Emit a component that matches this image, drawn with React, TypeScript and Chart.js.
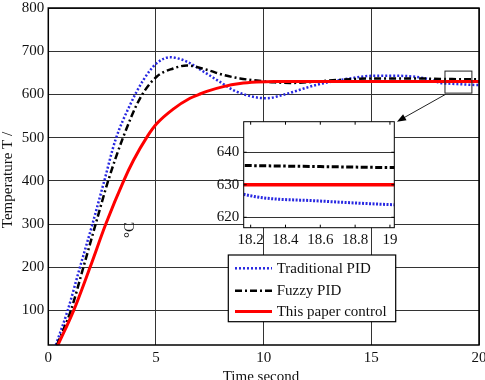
import React, { useEffect, useRef } from 'react';
import { Chart, registerables } from 'chart.js';

Chart.register(...registerables);

const FONT = "'Liberation Serif', 'Times New Roman', serif";

// ---- axis ticks ----
const xTicks = [0, 5, 10, 15, 20];
const yTicks = [100, 200, 300, 400, 500, 600, 700, 800];
const insetXTicks = [18.2, 18.4, 18.6, 18.8, 19];
const insetYTicks = [620, 630, 640];

// ---- series ----
const seriesNames = ['Traditional PID', 'Fuzzy PID', 'This paper control'];

const tradTime = [0.35, 0.9, 1.47, 2.05, 2.6, 3.12, 3.79, 4.41, 5.03, 5.65, 6.43, 7.2, 7.97, 8.59, 9.37, 10.14, 10.9, 12.45, 14.0, 15.07, 16.3, 17.7, 18.2, 18.6, 19.0, 19.87, 20];
const tradTemp = [20, 100, 200, 300, 400, 495, 575, 633, 672, 686, 676, 653, 629, 610, 596, 591, 599, 622, 637, 643, 643, 635, 626.6, 625, 623.9, 622, 622];

const fuzzyTime = [0.4, 1.05, 1.63, 2.2, 2.78, 3.47, 4.26, 5.03, 5.8, 6.43, 7.36, 8.13, 8.9, 9.68, 10.5, 11.2, 12, 13, 14, 15, 16, 17, 18.2, 18.6, 19, 20];
const fuzzyTemp = [20, 100, 200, 300, 400, 500, 591, 641, 660, 667, 657, 645, 637, 632, 628, 626.5, 628, 632, 635, 637, 637, 637, 635.9, 635.6, 635.3, 635];

const paperTime = [0.45, 1.18, 1.94, 2.67, 3.5, 3.95, 4.6, 5.03, 5.8, 6.58, 7.0, 7.36, 8.13, 8.9, 9.68, 10.5, 14, 18.2, 19, 20];
const paperTemp = [20, 100, 200, 300, 400, 447, 503, 532, 566, 591, 600, 607, 618, 625, 628.5, 630, 630, 630, 630, 630];

// ---- annotation (zoom box and arrow, in data units of the main chart) ----
const zoomBox = { x0: 18.42, x1: 19.67, y0: 603, y1: 654 };
const arrowTip = { x: 16.19, y: 537 };

const COLORS = ['rgb(40,40,225)', '#000000', '#ff0000'];
const DASHES: number[][] = [[2, 2], [7, 3, 2, 3], []];
const WIDTHS = [2.5, 2.5, 3];
const ORDERS = [2, 1, 0];

const toPts = (t: number[], v: number[]) => t.map((x, i) => ({ x, y: v[i] }));

function buildDatasets(inset: boolean) {
  const data = [toPts(tradTime, tradTemp), toPts(fuzzyTime, fuzzyTemp), toPts(paperTime, paperTemp)];
  const insetWidths = [3, 3, 3.5];
  const insetDashes: number[][] = [[2, 1.5], [7, 2.5, 2.5, 2.5], []];
  return data.map((d, i) => ({
    label: seriesNames[i],
    data: d,
    borderColor: COLORS[i],
    backgroundColor: COLORS[i],
    borderWidth: inset ? insetWidths[i] : WIDTHS[i],
    borderDash: inset ? insetDashes[i] : DASHES[i],
    borderCapStyle: 'butt' as const,
    pointRadius: 0,
    fill: false,
    cubicInterpolationMode: 'monotone' as const,
    order: ORDERS[i],
    clip: inset ? 0 : 2,
  }));
}

const tickFont = { family: FONT, size: 15 };

export default function App() {
  const mainRef = useRef<HTMLCanvasElement>(null);
  const insetRef = useRef<HTMLCanvasElement>(null);

  useEffect(() => {
    document.body.style.margin = '0';

    const mainPlugin = {
      id: 'mainDecor',
      afterDraw(chart: any) {
        const { ctx, chartArea: a, scales } = chart;
        const xs = scales.x, ys = scales.y;
        ctx.save();
        // frame
        ctx.strokeStyle = '#000';
        ctx.lineWidth = 1.5;
        ctx.strokeRect(a.left, a.top, a.right - a.left, a.bottom - a.top);

        // zoom box
        const bx0 = xs.getPixelForValue(zoomBox.x0), bx1 = xs.getPixelForValue(zoomBox.x1);
        const by0 = ys.getPixelForValue(zoomBox.y0), by1 = ys.getPixelForValue(zoomBox.y1);
        ctx.lineWidth = 1;
        ctx.strokeStyle = '#222';
        ctx.strokeRect(bx0, by1, bx1 - bx0, by0 - by1);

        // arrow
        const tx = xs.getPixelForValue(arrowTip.x), ty = ys.getPixelForValue(arrowTip.y);
        const sx = bx0 + 1, sy = by0 + 1;
        const ang = Math.atan2(ty - sy, tx - sx);
        ctx.beginPath();
        ctx.moveTo(sx, sy);
        ctx.lineTo(tx - 7 * Math.cos(ang), ty - 7 * Math.sin(ang));
        ctx.stroke();
        ctx.fillStyle = '#000';
        ctx.beginPath();
        ctx.moveTo(tx, ty);
        ctx.lineTo(tx - 9 * Math.cos(ang) + 3.5 * Math.sin(ang), ty - 9 * Math.sin(ang) - 3.5 * Math.cos(ang));
        ctx.lineTo(tx - 9 * Math.cos(ang) - 3.5 * Math.sin(ang), ty - 9 * Math.sin(ang) + 3.5 * Math.cos(ang));
        ctx.closePath();
        ctx.fill();

        // legend
        const lx = 228.3, ly = 255, lw = 167.4, lh = 66.7;
        ctx.fillStyle = '#fff';
        ctx.fillRect(lx, ly, lw, lh);
        ctx.strokeStyle = '#000';
        ctx.lineWidth = 1.2;
        ctx.strokeRect(lx, ly, lw, lh);
        const rows = [268.3, 290.7, 311.5];
        ctx.font = `15px ${FONT}`;
        ctx.textBaseline = 'middle';
        ctx.textAlign = 'left';
        chart.data.datasets.forEach((ds: any, i: number) => {
          ctx.save();
          ctx.strokeStyle = ds.borderColor;
          ctx.lineWidth = ds.borderWidth;
          ctx.setLineDash(ds.borderDash);
          ctx.lineCap = 'butt';
          ctx.beginPath();
          ctx.moveTo(235, rows[i]);
          ctx.lineTo(272, rows[i]);
          ctx.stroke();
          ctx.restore();
          ctx.fillStyle = '#111';
          ctx.fillText(ds.label, 276.7, rows[i] + 0.5);
        });

        // axis titles
        ctx.fillStyle = '#111';
        ctx.font = `15px ${FONT}`;
        ctx.textAlign = 'center';
        ctx.textBaseline = 'alphabetic';
        ctx.fillText('Time second', 261, 380.5);

        ctx.save();
        ctx.translate(11.5, 180);
        ctx.rotate(-Math.PI / 2);
        ctx.fillText('Temperature T /', 0, 0);
        ctx.restore();

        ctx.save();
        ctx.translate(133.5, 238);
        ctx.rotate(-Math.PI / 2);
        ctx.textAlign = 'left';
        ctx.fillText('°C', 0, 0);
        ctx.restore();

        ctx.restore();
      },
    };

    const main = new Chart(mainRef.current!, {
      type: 'line',
      data: { datasets: buildDatasets(false) as any },
      options: {
        responsive: false,
        animation: false,
        devicePixelRatio: 1,
        layout: { padding: { top: 8, right: 6, left: 0, bottom: 0 } },
        plugins: { legend: { display: false }, tooltip: { enabled: false } },
        scales: {
          x: {
            type: 'linear',
            min: 0,
            max: 20,
            afterBuildTicks: (s: any) => { s.ticks = xTicks.map((v) => ({ value: v })); },
            afterFit: (s: any) => { s.height = 35; s.paddingLeft = 0; s.paddingRight = 0; },
            ticks: { font: tickFont, color: '#111', padding: 4, autoSkip: false, maxRotation: 0, callback: (v: any) => String(v) },
            grid: { color: '#333', lineWidth: 1, drawTicks: false },
            border: { display: false },
          },
          y: {
            type: 'linear',
            min: 20,
            max: 800,
            afterBuildTicks: (s: any) => { s.ticks = yTicks.map((v) => ({ value: v })); },
            afterFit: (s: any) => { s.width = 48.3; s.paddingTop = 0; s.paddingBottom = 0; },
            ticks: { font: tickFont, color: '#111', padding: 4, autoSkip: false, callback: (v: any) => String(v) },
            grid: { color: '#333', lineWidth: 1, drawTicks: false },
            border: { display: false },
          },
        },
      },
      plugins: [mainPlugin],
    });

    const insetPlugin = {
      id: 'insetDecor',
      beforeDraw(chart: any) {
        const { ctx, chartArea: a } = chart;
        ctx.save();
        ctx.fillStyle = '#fff';
        ctx.fillRect(a.left, a.top, a.right - a.left, a.bottom - a.top);
        ctx.restore();
      },
      afterDraw(chart: any) {
        const { ctx, chartArea: a, scales } = chart;
        ctx.save();
        ctx.strokeStyle = '#000';
        ctx.lineWidth = 1;
        ctx.strokeRect(a.left, a.top, a.right - a.left, a.bottom - a.top);
        ctx.beginPath();
        insetXTicks.forEach((v) => {
          const px = scales.x.getPixelForValue(v);
          ctx.moveTo(px, a.top); ctx.lineTo(px, a.top + 3);
          ctx.moveTo(px, a.bottom); ctx.lineTo(px, a.bottom - 3);
        });
        insetYTicks.forEach((v) => {
          const py = scales.y.getPixelForValue(v);
          ctx.moveTo(a.left, py); ctx.lineTo(a.left + 3, py);
          ctx.moveTo(a.right, py); ctx.lineTo(a.right - 3, py);
        });
        ctx.stroke();
        ctx.restore();
      },
    };

    const inset = new Chart(insetRef.current!, {
      type: 'line',
      data: { datasets: buildDatasets(true) as any },
      options: {
        responsive: false,
        animation: false,
        devicePixelRatio: 1,
        layout: { padding: { top: 11.7, right: 15.7, left: 0, bottom: 0 } },
        plugins: { legend: { display: false }, tooltip: { enabled: false } },
        scales: {
          x: {
            type: 'linear',
            min: 18.16,
            max: 19.025,
            afterBuildTicks: (s: any) => { s.ticks = insetXTicks.map((v) => ({ value: v })); },
            afterFit: (s: any) => { s.height = 22.3; s.paddingLeft = 0; s.paddingRight = 0; },
            ticks: { font: tickFont, color: '#111', padding: 3, autoSkip: false, maxRotation: 0, callback: (v: any) => String(v) },
            grid: { display: false, drawTicks: false },
            border: { display: false },
          },
          y: {
            type: 'linear',
            min: 616.8,
            max: 649.4,
            afterBuildTicks: (s: any) => { s.ticks = insetYTicks.map((v) => ({ value: v })); },
            afterFit: (s: any) => { s.width = 43.7; s.paddingTop = 0; s.paddingBottom = 0; },
            ticks: { font: tickFont, color: '#111', padding: 4.5, autoSkip: false, callback: (v: any) => String(v) },
            grid: { color: '#333', lineWidth: 1, drawTicks: false },
            border: { display: false },
          },
        },
      },
      plugins: [insetPlugin],
    });

    return () => {
      main.destroy();
      inset.destroy();
    };
  }, []);

  return (
    <div style={{ position: 'absolute', left: 0, top: 0, width: 485, height: 380, background: '#fff', overflow: 'hidden' }}>
      <canvas ref={mainRef} width={485} height={380} style={{ position: 'absolute', left: 0, top: 0, display: 'block' }} />
      <canvas ref={insetRef} width={210} height={140} style={{ position: 'absolute', left: 200, top: 110, display: 'block' }} />
    </div>
  );
}
